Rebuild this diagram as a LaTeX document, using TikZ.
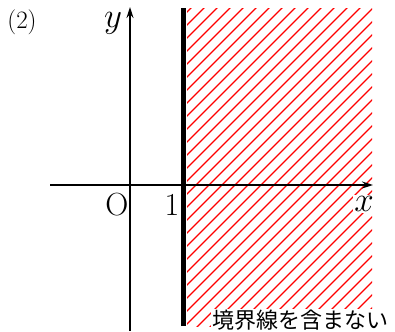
\RequirePackage{fix-cm}
\documentclass[tikz,border=0pt]{standalone}
\usepackage[no-math]{fontspec}
\newfontfamily\jpfont{Noto Sans CJK JP}
\usetikzlibrary{arrows.meta}

\begin{document}
\begin{tikzpicture}[x=1pt, y=1pt,
  axis/.style={line width=1.4pt, -{Stealth[length=11pt, width=7pt]}},
  bound/.style={line width=5pt},
  hatch/.style={red, line width=1.2pt},
  lbl/.style={inner sep=1pt, font=\fontsize{32}{32}\selectfont},
  var/.style={inner sep=1pt, font=\fontsize{35}{35}\selectfont}]
\useasboundingbox (0,0) rectangle (395,331);

% region x > 1
\begin{scope}
  \clip (187,5) rectangle (372,322);
  \foreach \c in {-340,-327,...,372}
    \draw[hatch] (\c,0) -- ++(340,340);
\end{scope}

\coordinate (xs) at (50,146);
\coordinate (xe) at (373,146);
\coordinate (ys) at (130,0);
\coordinate (ye) at (130,324);
\coordinate (bs) at (183,5);
\coordinate (be) at (183,323);

\draw[bound] (bs) -- (be);
\draw[axis] (xs) -- (xe);
\draw[axis] (ys) -- (ye);

\node[var, fill=white] (xl) at (364,127) {$x$};
\node[var] (yl) at (113,308) {$y$};
\node[lbl] (ol) at (117,126) {$\mathrm{O}$};
\node[lbl] (one) at (172,126) {$1$};
\node[inner sep=1pt, font=\fontsize{25}{25}\selectfont] (num) at (22,309) {$(2)$};
\node[fill=white, inner sep=1pt, font=\jpfont\fontsize{22}{22}\selectfont] (note) at (300,11) {境界線を含まない};
\end{tikzpicture}
\end{document}
